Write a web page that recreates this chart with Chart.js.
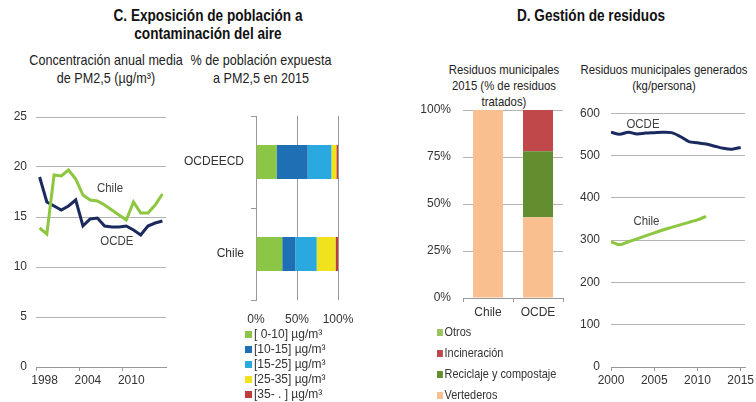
<!DOCTYPE html>
<html>
<head>
<meta charset="utf-8">
<script src="https://cdn.jsdelivr.net/npm/chart.js@4.4.0/dist/chart.umd.min.js"></script>
<style>
  body { margin: 0; background: #fff; width: 756px; height: 402px; overflow: hidden; position: relative;
    font-family: "Liberation Sans", Arial, sans-serif; color: #222; }
  .box { position: absolute; }
  .title { position: absolute; font-weight: bold; font-size: 16px; text-align: center; line-height: 18px; color: #111;
    white-space: nowrap; transform: scaleX(0.85); transform-origin: center top; }
  .sub { position: absolute; text-align: center; color: #222; white-space: nowrap;
    transform: scaleX(0.84); transform-origin: center top; }
  .legend { position: absolute; color: #333; }
  .legend div { white-space: nowrap; }
  .legend .sw { display: inline-block; width: 7px; height: 7px; margin-right: 2px; }
</style>
</head>
<body>
<div class="title" style="left:70px; top:7px; width:276px;">C. Exposición de población a<br>contaminación del aire</div>
<div class="title" style="left:470px; top:7px; width:242px;">D. Gestión de residuos</div>
<div class="sub" style="left:6px; top:51px; width:200px; font-size:15px; line-height:18px;">Concentración anual media<br>de PM2,5 (µg/m³)</div>
<div class="sub" style="left:170px; top:51px; width:182px; font-size:15px; line-height:18px;">% de población expuesta<br>a PM2,5 en 2015</div>
<div class="sub" style="left:420px; top:62px; width:168px; font-size:13.5px; line-height:16px;">Residuos municipales<br>2015 (% de residuos<br>tratados)</div>
<div class="sub" style="left:555px; top:62px; width:218px; font-size:13.5px; line-height:16px;">Residuos municipales generados<br>(kg/persona)</div>

<div class="box" style="left:0px; top:100px; width:175px; height:300px;"><canvas id="pmChart"></canvas></div>
<div class="box" style="left:175px; top:100px; width:180px; height:230px;"><canvas id="expChart"></canvas></div>
<div class="box" style="left:400px; top:90px; width:175px; height:230px;"><canvas id="wasteChart"></canvas></div>
<div class="box" style="left:575px; top:95px; width:181px; height:307px;"><canvas id="genChart"></canvas></div>

<div class="legend" id="expLegend" style="left:245px; top:327px; font-size:12px; line-height:15px;"></div>
<div class="legend" id="wasteLegend" style="left:437px; top:321px; font-size:13px; line-height:21px; transform: scaleX(0.84); transform-origin: left top;"></div>

<script>
// PM2,5 annual mean concentration (µg/m³)
const pmYears = ["1998", "1999", "2000", "2001", "2002", "2003", "2004", "2005", "2006",
                 "2007", "2008", "2009", "2010", "2011", "2012", "2013", "2014", "2015"];
const pmChile = [13.9, 13.3, 19.2, 19.1, 19.7, 18.8, 17.2, 16.7, 16.6, 16.2, 15.7, 15.2, 14.7, 16.5, 15.4, 15.4, 16.2, 17.3];
const pmOcde  = [19.0, 16.5, 16.1, 15.7, 16.1, 16.7, 14.1, 14.8, 14.9, 14.1, 14.0, 14.0, 14.1, 13.7, 13.2, 14.1, 14.4, 14.6];

// % population exposed to PM2,5 in 2015
const expCategories = ["OCDEECD", "Chile"];
const expBands = ["[ 0-10] µg/m³", "[10-15] µg/m³", "[15-25] µg/m³", "[25-35] µg/m³", "[35- . ] µg/m³"];
const exp0to10  = [25, 32];
const exp10to15 = [38, 16];
const exp15to25 = [29, 26];
const exp25to35 = [6, 23];
const exp35plus = [2, 3];

// municipal waste treatment 2015 (%)
const wasteCategories = ["Chile", "OCDE"];
const wasteVertederos   = [100, 43];
const wasteReciclaje    = [0, 35];
const wasteIncineracion = [0, 22];
const wasteOtros        = [0, 0];

// municipal waste generated (kg/persona)
const genYearsOcde  = [2000, 2001, 2002, 2003, 2004, 2005, 2006, 2007, 2008, 2009, 2010, 2011, 2012, 2013, 2014, 2015];
const genOcde       = [555, 550, 555, 551, 553, 554, 555, 554, 545, 533, 530, 527, 522, 517, 515, 519];
const genYearsChile = [2000, 2001, 2002, 2003, 2004, 2005, 2006, 2007, 2008, 2009, 2010, 2011];
const genChile      = [296, 289, 296, 303, 310, 317, 324, 330, 336, 342, 348, 356];

const FONT = '"Liberation Sans", Arial, sans-serif';
const GREEN = "#8dc63f";
const NAVY = "#1b2a5e";
const GRID = "#b3b3b3";
const AXIS = "#999999";
const CLEAR = "rgba(0,0,0,0)";

Chart.defaults.font.family = FONT;
Chart.defaults.font.size = 12;
Chart.defaults.color = "#333";
Chart.defaults.animation = false;
Chart.defaults.maintainAspectRatio = false;
Chart.defaults.plugins.legend.display = false;
Chart.defaults.plugins.tooltip.enabled = false;

// writes the series names next to the lines
const seriesTags = {
    id: "seriesTags",
    afterDatasetsDraw(chart, args, opts) {
        const { ctx, scales } = chart;
        ctx.save();
        ctx.font = "13px " + FONT;
        ctx.fillStyle = "#404040";
        ctx.textAlign = "center";
        ctx.textBaseline = "middle";
        (opts.tags || []).forEach((t) => {
            const px = scales.x.getPixelForValue(t.x);
            const py = scales.y.getPixelForValue(t.y);
            ctx.save();
            ctx.translate(px, py);
            ctx.scale(0.88, 1);
            ctx.fillText(t.text, 0, 0);
            ctx.restore();
        });
        ctx.restore();
    },
};

// C - left: PM2,5 lines
new Chart(document.getElementById("pmChart"), {
    type: "line",
    data: {
        labels: pmYears,
        datasets: [
            { label: "Chile", data: pmChile, borderColor: GREEN, borderWidth: 3, pointRadius: 0, tension: 0 },
            { label: "OCDE", data: pmOcde, borderColor: NAVY, borderWidth: 3, pointRadius: 0, tension: 0 },
        ],
    },
    options: {
        layout: { padding: { top: 17, right: 9, bottom: 13, left: 0 } },
        plugins: {
            seriesTags: { tags: [ { text: "Chile", x: 9.75, y: 17.9 }, { text: "OCDE", x: 10.7, y: 12.6 } ] },
        },
        scales: {
            x: {
                offset: true,
                grid: {
                    offset: true, drawOnChartArea: false, tickLength: 4,
                    tickColor: (c) => (c.index % 6 === 0 ? AXIS : CLEAR),
                },
                border: { color: AXIS },
                ticks: {
                    autoSkip: false, maxRotation: 0, labelOffset: 5, padding: 2,
                    callback: function (v, i) { return i % 6 === 0 ? this.getLabelForValue(v) : ""; },
                },
                afterFit: (s) => { s.height = 20; },
            },
            y: {
                min: 0, max: 25,
                ticks: { stepSize: 5, padding: 9 },
                grid: { color: GRID, drawTicks: false },
                border: { display: false },
                afterFit: (s) => { s.width = 36; },
            },
        },
    },
    plugins: [seriesTags],
});

// C - right: exposure bands
const expColors = ["#8cc646", "#1f6fb4", "#2aa9e0", "#f0e31e", "#c03c3c"];
const expValues = [exp0to10, exp10to15, exp15to25, exp25to35, exp35plus];
new Chart(document.getElementById("expChart"), {
    type: "bar",
    data: {
        labels: expCategories,
        datasets: expBands.map((b, i) => ({
            label: b, data: expValues[i], backgroundColor: expColors[i],
            barPercentage: 0.37, categoryPercentage: 1,
        })),
    },
    options: {
        indexAxis: "y",
        layout: { padding: { top: 16, right: 17, bottom: 0, left: 0 } },
        scales: {
            x: {
                stacked: true, min: 0, max: 100,
                ticks: { stepSize: 50, padding: 3, callback: (v) => v + "%" },
                grid: { color: AXIS, tickLength: 9, tickColor: CLEAR },
                border: { display: false },
                afterFit: (s) => { s.height = 30; s.paddingLeft = 0; s.paddingRight = 0; },
            },
            y: {
                stacked: true,
                grid: { drawOnChartArea: false, tickLength: 5, color: AXIS },
                border: { color: AXIS },
                ticks: { padding: 7 },
                afterFit: (s) => { s.width = 81; },
            },
        },
    },
});

// D - left: waste treatment
const wasteNames = ["Vertederos", "Reciclaje y compostaje", "Incineración", "Otros"];
const wasteColors = ["#f9bf8f", "#628e30", "#c0474a", "#9cc35e"];
const wasteValues = [wasteVertederos, wasteReciclaje, wasteIncineracion, wasteOtros];
new Chart(document.getElementById("wasteChart"), {
    type: "bar",
    data: {
        labels: wasteCategories,
        datasets: wasteNames.map((n, i) => ({
            label: n, data: wasteValues[i], backgroundColor: wasteColors[i],
            barPercentage: 0.6, categoryPercentage: 1,
        })),
    },
    options: {
        layout: { padding: { top: 20, right: 12, bottom: 0, left: 0 } },
        scales: {
            x: {
                stacked: true,
                grid: { drawOnChartArea: false, tickLength: 4, color: AXIS },
                border: { color: AXIS },
                ticks: { padding: 3 },
                afterFit: (s) => { s.height = 22; },
            },
            y: {
                stacked: true, min: 0, max: 100,
                ticks: { stepSize: 25, padding: 12, callback: (v) => v + "%" },
                grid: { color: GRID, drawTicks: false },
                border: { display: false },
                afterFit: (s) => { s.width = 63; },
            },
        },
    },
});

// D - right: waste generated
new Chart(document.getElementById("genChart"), {
    type: "line",
    data: {
        datasets: [
            { label: "OCDE", data: genYearsOcde.map((y, i) => ({ x: y, y: genOcde[i] })), borderColor: NAVY, borderWidth: 3, pointRadius: 0, tension: 0.3 },
            { label: "Chile", data: genYearsChile.map((y, i) => ({ x: y, y: genChile[i] })), borderColor: GREEN, borderWidth: 3, pointRadius: 0, tension: 0.3 },
        ],
    },
    options: {
        layout: { padding: { top: 17, right: 11, bottom: 14, left: 0 } },
        plugins: {
            seriesTags: { tags: [ { text: "OCDE", x: 2003.7, y: 574 }, { text: "Chile", x: 2004.1, y: 345 } ] },
        },
        scales: {
            x: {
                type: "linear", min: 2000, max: 2015.5,
                ticks: { stepSize: 5, includeBounds: false, maxRotation: 0, padding: 2, callback: (v) => String(v) },
                grid: { drawOnChartArea: false, tickLength: 4, color: AXIS },
                border: { color: AXIS },
                afterFit: (s) => { s.height = 21; s.paddingLeft = 0; s.paddingRight = 0; },
            },
            y: {
                min: 0, max: 600,
                ticks: { stepSize: 100, padding: 11 },
                grid: { color: GRID, drawTicks: false },
                border: { display: false },
                afterFit: (s) => { s.width = 36; },
            },
        },
    },
    plugins: [seriesTags],
});

// html legends, one item per row
const fillLegend = (id, names, colors) => {
    document.getElementById(id).innerHTML = names
        .map((n, i) => `<div><span class="sw" style="background:${colors[i]}"></span>${n}</div>`)
        .join("");
};
fillLegend("expLegend", expBands, expColors);
fillLegend("wasteLegend", wasteNames.slice().reverse(), wasteColors.slice().reverse());
</script>
</body>
</html>
